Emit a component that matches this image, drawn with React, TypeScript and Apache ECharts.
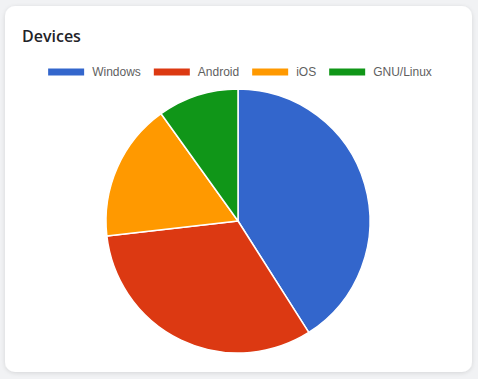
import React, { useEffect, useRef } from "react";
import * as echarts from "echarts";

const categories = ["Windows", "Android", "iOS", "GNU/Linux"];
const values = [41, 32.2, 16.9, 9.9];
const colors = ["#3366cc", "#dc3912", "#ff9900", "#109618"];
const title = "Devices";

export default function App() {
  const ref = useRef<HTMLDivElement>(null);
  useEffect(() => {
    const chart = echarts.init(ref.current!, undefined, { renderer: "svg" });
    chart.setOption({
      animation: false,
      backgroundColor: "#f1f2f4",
      color: colors,
      graphic: [
        {
          type: "rect",
          shape: { x: 5, y: 6, width: 467, height: 366, r: 10 },
          style: {
            fill: "#ffffff",
            shadowBlur: 4,
            shadowColor: "rgba(0,0,0,0.12)",
            shadowOffsetY: 1,
          },
          z: -10,
        },
      ],
      title: {
        text: title,
        left: 17,
        top: 23,
        textStyle: {
          fontFamily: "Open Sans",
          fontSize: 16,
          fontWeight: 600,
          color: "#1f2328",
        },
      },
      legend: {
        top: 61,
        left: "center",
        icon: "rect",
        itemWidth: 38,
        itemHeight: 9,
        itemGap: 11,
        textStyle: {
          fontFamily: "Liberation Sans",
          fontSize: 12,
          color: "#5f5f5f",
          padding: [0, 0, 0, 2],
        },
        data: categories,
      },
      series: [
        {
          type: "pie",
          center: [238, 221],
          radius: 132,
          startAngle: 90,
          clockwise: true,
          label: { show: false },
          labelLine: { show: false },
          emphasis: { disabled: true },
          itemStyle: { borderColor: "#ffffff", borderWidth: 1.5 },
          data: categories.map((c, i) => ({ name: c, value: values[i] })),
        },
      ],
    });
    return () => chart.dispose();
  }, []);
  return (
    <div style={{ position: "fixed", left: 0, top: 0, width: 478, height: 379 }}>
      <div ref={ref} style={{ width: 478, height: 379 }} />
    </div>
  );
}
